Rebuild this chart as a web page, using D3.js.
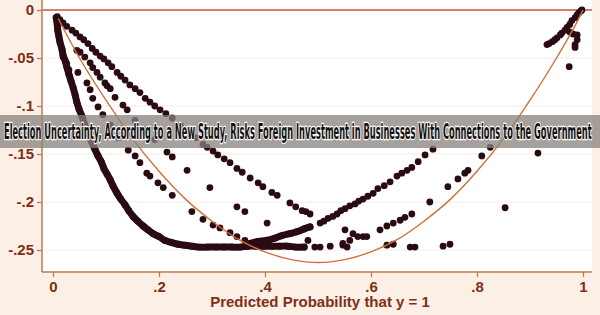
<!DOCTYPE html>
<html>
<head>
<meta charset="utf-8">
<script src="https://cdn.jsdelivr.net/npm/d3@7"></script>
<style>
  body { margin: 0; background: #fcefe6; }
  svg { display: block; }
</style>
</head>
<body>
<script>
const width = 600;
const height = 315;

// axis ticks
const xTicks = [0, 0.2, 0.4, 0.6, 0.8, 1];
const xTickLabels = ["0", ".2", ".4", ".6", ".8", "1"];
const yTicks = [0, -0.05, -0.1, -0.15, -0.2, -0.25];
const yTickLabels = ["0", "-.05", "-.1", "-.15", "-.2", "-.25"];

// fitted (orange) curve
const fitP = [0.01, 0.05, 0.1, 0.15, 0.2, 0.25, 0.3, 0.35, 0.4, 0.45, 0.5,
  0.55, 0.6, 0.65, 0.7, 0.75, 0.8, 0.85, 0.9, 0.95, 0.99, 1];
const fitY = [-0.009, -0.05, -0.094, -0.134, -0.168, -0.197, -0.220, -0.239, -0.252, -0.260, -0.263,
  -0.260, -0.252, -0.239, -0.220, -0.197, -0.168, -0.134, -0.094, -0.050, -0.011, 0];

// thick dense arc of points on the left
const arcDots = [[0.006,-0.008],[0.008,-0.015],[0.009,-0.021],[0.011,-0.027],[0.013,-0.033],[0.017,-0.041],
  [0.019,-0.047],[0.023,-0.053],[0.026,-0.059],[0.030,-0.067],[0.034,-0.074],[0.038,-0.081],[0.042,-0.089],
  [0.045,-0.096],[0.049,-0.103],[0.055,-0.111],[0.060,-0.120],[0.066,-0.128],[0.072,-0.136],[0.079,-0.145],
  [0.085,-0.152],[0.091,-0.158],[0.096,-0.165],[0.102,-0.171],[0.108,-0.177],[0.113,-0.183],[0.121,-0.191],
  [0.128,-0.197],[0.136,-0.203],[0.143,-0.209],[0.151,-0.215],[0.160,-0.220],[0.170,-0.225],[0.179,-0.229],
  [0.189,-0.233],[0.200,-0.236],[0.211,-0.240],[0.223,-0.242],[0.236,-0.244],[0.249,-0.245],[0.262,-0.246],
  [0.277,-0.247],[0.292,-0.247],[0.308,-0.247],[0.323,-0.247],[0.338,-0.247],[0.353,-0.247],[0.368,-0.246],
  [0.383,-0.246],[0.398,-0.246],[0.413,-0.246],[0.428,-0.246],[0.443,-0.246],[0.458,-0.247],[0.474,-0.247]];

// branch rising out of the arc bottom
const arcBranch = [[0.372,-0.243],[0.387,-0.241],[0.402,-0.240],[0.417,-0.238],[0.432,-0.235],
  [0.447,-0.233],[0.460,-0.231],[0.474,-0.228],[0.485,-0.226]];

// upper falling line
const lineA = [[0.008,-0.007],[0.013,-0.010],[0.019,-0.0135],[0.026,-0.017],[0.036,-0.021],[0.043,-0.024],
  [0.051,-0.028],[0.058,-0.031],[0.066,-0.035],[0.074,-0.040],[0.081,-0.044],[0.089,-0.048],[0.096,-0.051],
  [0.104,-0.055],[0.111,-0.059],[0.121,-0.065],[0.128,-0.069],[0.136,-0.073],[0.145,-0.078],[0.155,-0.082],
  [0.164,-0.086],[0.174,-0.092],[0.183,-0.096],[0.192,-0.100],[0.202,-0.104],[0.213,-0.108],[0.225,-0.1125],
  [0.240,-0.120],[0.255,-0.126],[0.270,-0.133],[0.283,-0.140],[0.291,-0.143],[0.302,-0.147],[0.311,-0.151],
  [0.323,-0.155],[0.334,-0.159],[0.347,-0.165],[0.357,-0.169],[0.372,-0.175],[0.387,-0.180],[0.396,-0.184],
  [0.413,-0.190],[0.423,-0.193],[0.447,-0.201],[0.458,-0.205],[0.470,-0.209],[0.477,-0.210],[0.485,-0.2125]];

// dotted line right of the fit
const line2 = [[0.045,-0.042],[0.051,-0.044],[0.060,-0.049],[0.070,-0.055],[0.075,-0.060],[0.083,-0.065],
  [0.089,-0.070],[0.098,-0.076],[0.102,-0.079],[0.108,-0.082],[0.117,-0.091],[0.132,-0.099],[0.140,-0.104],
  [0.155,-0.115],[0.174,-0.125],[0.192,-0.135],[0.215,-0.148],[0.225,-0.153],[0.253,-0.167],[0.296,-0.185],
  [0.347,-0.205],[0.362,-0.210],[0.404,-0.222]];

// dotted line left of the fit
const line3 = [[0.019,-0.049],[0.026,-0.056],[0.030,-0.0625],[0.047,-0.065],[0.064,-0.076],[0.070,-0.083],
  [0.075,-0.092],[0.085,-0.101],[0.094,-0.109],[0.108,-0.120],[0.123,-0.133],[0.142,-0.146],[0.155,-0.152],
  [0.164,-0.159],[0.177,-0.170],[0.183,-0.173],[0.198,-0.180],[0.208,-0.185],[0.225,-0.193],[0.262,-0.210],
  [0.283,-0.218],[0.302,-0.224],[0.315,-0.227],[0.334,-0.232],[0.347,-0.236],[0.362,-0.240]];

// rising lines on the right
const lineC = [[0.504,-0.222],[0.511,-0.220],[0.519,-0.217],[0.528,-0.215],[0.536,-0.2125],[0.543,-0.209],
  [0.551,-0.207],[0.560,-0.204],[0.570,-0.202],[0.577,-0.199],[0.585,-0.197],[0.594,-0.194],[0.604,-0.191],
  [0.613,-0.186],[0.625,-0.183],[0.636,-0.179],[0.649,-0.173],[0.658,-0.170],[0.668,-0.167],[0.677,-0.164],
  [0.689,-0.158],[0.702,-0.151],[0.717,-0.145]];
const lineD = [[0.617,-0.229],[0.630,-0.225],[0.642,-0.222],[0.655,-0.219],[0.664,-0.216],[0.677,-0.2125],
  [0.711,-0.200],[0.745,-0.184],[0.764,-0.176],[0.777,-0.170],[0.783,-0.167],[0.809,-0.152]];

// scattered points near the bottom and elsewhere
const bottomDots = [[0.494,-0.247],[0.504,-0.247],[0.523,-0.246],[0.547,-0.245],[0.555,-0.247],[0.481,-0.240],
  [0.551,-0.229],[0.560,-0.240],[0.566,-0.233],[0.575,-0.236],[0.585,-0.236],[0.592,-0.236],[0.547,-0.243],
  [0.630,-0.245],[0.642,-0.244],[0.674,-0.247],[0.683,-0.247],[0.736,-0.246],[0.749,-0.244]];
const strayDots = [[0.853,-0.206],[0.915,-0.149],[0.825,-0.143]];

// cluster in the top right corner
const topRight = [[0.932,-0.036],[0.936,-0.035],[0.942,-0.033],[0.947,-0.031],[0.951,-0.029],[0.957,-0.026],
  [0.960,-0.024],[0.966,-0.021],[0.970,-0.018],[0.975,-0.015],[0.979,-0.011],[0.985,-0.008],[0.989,-0.005],
  [0.992,-0.003],[0.996,-0.001],[0.998,0],[0.975,-0.023],[0.981,-0.025],[0.989,-0.026],[0.989,-0.031],
  [0.985,-0.036],[0.985,-0.039],[0.974,-0.059]];

const titleText = "Election Uncertainty, According to a New Study, Risks Foreign Investment in Businesses With Connections to the Government";

const x = d3.scaleLinear().domain([0, 1]).range([53, 583]);
const y = d3.scaleLinear().domain([0, -0.25]).range([10, 250]);

const plotLeft = 42, plotRight = 592, plotTop = 0, plotBottom = 272;
const axisColor = "#c07a4c";
const labelColor = "#7e2f16";
const dotColor = "#2b0b12";

const svg = d3.select("body")
  .append("svg")
  .attr("width", width)
  .attr("height", height);

svg.append("rect")
  .attr("width", width).attr("height", height)
  .attr("fill", "#fcefe6");

svg.append("rect")
  .attr("x", plotLeft).attr("y", plotTop)
  .attr("width", plotRight - plotLeft).attr("height", plotBottom - plotTop)
  .attr("fill", "#ffffff");

// faint grid
svg.selectAll("line.grid")
  .data(yTicks)
  .enter().append("line")
  .attr("class", "grid")
  .attr("x1", plotLeft).attr("x2", plotRight)
  .attr("y1", (d) => y(d)).attr("y2", (d) => y(d))
  .attr("stroke", "#f6ece6")
  .attr("stroke-width", 1);

// zero reference line
svg.append("line")
  .attr("x1", plotLeft).attr("x2", plotRight)
  .attr("y1", y(0)).attr("y2", y(0))
  .attr("stroke", "#cc5a42")
  .attr("stroke-width", 1.5);

const dotLine = d3.line()
  .x((d) => x(d[0]))
  .y((d) => y(d[1]))
  .curve(d3.curveCatmullRom);

// dense band behind the arc points
[arcDots, arcBranch].forEach((pts) => {
  svg.append("path")
    .datum(pts)
    .attr("d", dotLine)
    .attr("fill", "none")
    .attr("stroke", dotColor)
    .attr("stroke-width", 7)
    .attr("stroke-linecap", "round");
});

const allDots = [].concat(arcDots, arcBranch, lineA, line2, line3, lineC, lineD,
  bottomDots, strayDots, topRight);

svg.selectAll("circle")
  .data(allDots)
  .enter().append("circle")
  .attr("cx", (d) => x(d[0]))
  .attr("cy", (d) => y(d[1]))
  .attr("r", 3.4)
  .attr("fill", dotColor);

// fitted curve
svg.append("path")
  .datum(fitP.map((p, i) => [p, fitY[i]]))
  .attr("d", d3.line().x((d) => x(d[0])).y((d) => y(d[1])).curve(d3.curveMonotoneX))
  .attr("fill", "none")
  .attr("stroke", "#d0703c")
  .attr("stroke-width", 1.4);

// axes
const yAxis = svg.append("g")
  .attr("transform", "translate(" + plotLeft + ",0)")
  .call(d3.axisLeft(y).tickValues(yTicks).tickFormat((d, i) => yTickLabels[i]).tickSize(5).tickPadding(3));
const xAxis = svg.append("g")
  .attr("transform", "translate(0," + plotBottom + ")")
  .call(d3.axisBottom(x).tickValues(xTicks).tickFormat((d, i) => xTickLabels[i]).tickSize(5).tickPadding(4));

[yAxis, xAxis].forEach((g) => {
  g.select(".domain").remove();
  g.selectAll(".tick line").attr("stroke", axisColor).attr("stroke-width", 1.3);
  g.selectAll(".tick text")
    .attr("fill", labelColor)
    .style("font-family", "'Liberation Sans', Arial, sans-serif")
    .style("font-size", "15px")
    .style("font-weight", "bold");
});

svg.append("line")
  .attr("x1", plotLeft).attr("x2", plotLeft)
  .attr("y1", plotTop).attr("y2", plotBottom)
  .attr("stroke", axisColor).attr("stroke-width", 1.5);
svg.append("line")
  .attr("x1", plotLeft).attr("x2", plotRight)
  .attr("y1", plotBottom).attr("y2", plotBottom)
  .attr("stroke", axisColor).attr("stroke-width", 1.5);

svg.append("text")
  .attr("x", 320).attr("y", 307)
  .attr("text-anchor", "middle")
  .attr("fill", labelColor)
  .style("font-family", "'Liberation Sans', Arial, sans-serif")
  .style("font-size", "15px")
  .style("font-weight", "bold")
  .text("Predicted Probability that y = 1");

// overlay banner
svg.append("rect")
  .attr("x", 0).attr("y", 115)
  .attr("width", width).attr("height", 33)
  .attr("fill", "#8a827d")
  .attr("opacity", 0.75);

// banner headline, squeezed horizontally to fit the page width
const banner = svg.append("text")
  .attr("x", 0).attr("y", 0)
  .attr("fill", "#111")
  .attr("stroke", "#ffffff")
  .attr("stroke-width", 2.5)
  .attr("paint-order", "stroke")
  .style("font-family", "'Liberation Sans Narrow', 'DejaVu Sans Condensed', sans-serif")
  .style("font-size", "21px")
  .style("font-weight", "bold")
  .text(titleText);
const natural = banner.node().getComputedTextLength();
banner.attr("transform", "translate(4,139) scale(" + (588 / natural) + ",1)");
</script>
</body>
</html>
